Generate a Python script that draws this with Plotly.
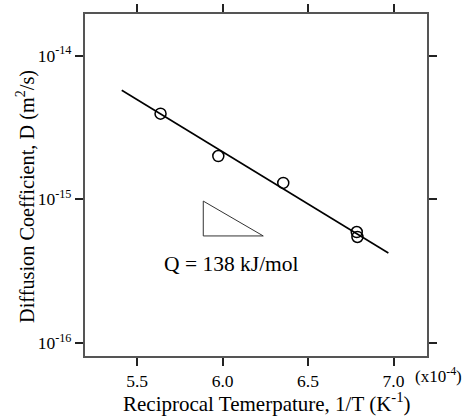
import plotly.graph_objects as go

# Measured data: reciprocal temperature (x1e-4 K^-1) and diffusion coefficient (m^2/s)
inv_T = [5.637, 5.975, 6.355, 6.785, 6.789]
D_vals = [3.94e-15, 2.0e-15, 1.30e-15, 5.92e-16, 5.47e-16]

# Arrhenius fit line end points
fit_x = [5.41, 6.97]
fit_D = [5.74e-15, 4.23e-16]

# Slope triangle vertices
tri_x = [5.887, 5.887, 6.238, 5.887]
tri_D = [9.72e-16, 5.56e-16, 5.56e-16, 9.72e-16]

y_tickvals = [1e-16, 1e-15, 1e-14]
y_ticktext = ["10<sup>-16</sup>", "10<sup>-15</sup>", "10<sup>-14</sup>"]
x_tickvals = [5.5, 6.0, 6.5, 7.0]
x_ticktext = ["5.5", "6.0", "6.5", "7.0"]

FONT = "Liberation Serif"

fig = go.Figure()
fig.add_trace(go.Scatter(x=fit_x, y=fit_D, mode="lines",
                         line=dict(color="black", width=1.6), showlegend=False))
fig.add_trace(go.Scatter(x=tri_x, y=tri_D, mode="lines",
                         line=dict(color="#333333", width=1), showlegend=False))
fig.add_trace(go.Scatter(x=inv_T, y=D_vals, mode="markers",
                         marker=dict(symbol="circle-open", size=11, color="black",
                                     line=dict(width=1.5, color="black")),
                         showlegend=False))

fig.update_layout(
    width=463, height=416,
    margin=dict(l=85, r=36, t=14, b=60, autoexpand=False),
    plot_bgcolor="white", paper_bgcolor="white",
    font=dict(family=FONT, size=17, color="black"),
    xaxis=dict(range=[5.195, 7.196], tickvals=x_tickvals, ticktext=x_ticktext,
               showgrid=False, zeroline=False, showline=True, linecolor="#555555",
               linewidth=2, mirror="ticks", ticks="outside", ticklen=8,
               tickcolor="#222222", tickwidth=1.5, automargin=False,
               tickfont=dict(family=FONT, size=17.5)),
    yaxis=dict(type="log", range=[-16.09, -13.711], tickvals=y_tickvals,
               ticktext=y_ticktext, showgrid=False, zeroline=False, showline=True,
               linecolor="#555555", linewidth=2, mirror="ticks", ticks="outside",
               ticklen=8, tickcolor="#222222", tickwidth=1.5, automargin=False,
               tickfont=dict(family=FONT, size=17.5)),
    annotations=[
        dict(text="Q = 138 kJ/mol", x=231, y=416 - 264, showarrow=False,
             font=dict(size=21.5)),
        dict(text="Diffusion Coefficient, D (m<sup>2</sup>/s)", textangle=-90,
             x=25, y=416 - 197, showarrow=False, font=dict(size=20.3)),
        dict(text="Reciprocal Temerpature, 1/T (K<sup>-1</sup>)",
             x=267, y=416 - 402, showarrow=False, font=dict(size=21)),
        dict(text="(x10<sup>-4</sup>)", x=438, y=416 - 375, showarrow=False,
             font=dict(size=17)),
    ],
)

# convert pixel-positioned annotations to paper coords
pw = 463 - 85 - 36
ph = 416 - 14 - 60
for a in fig.layout.annotations:
    px, py = a.x, a.y
    a.x = (px - 85) / pw
    a.y = (py - 60) / ph
    a.xref = "paper"
    a.yref = "paper"
    a.xanchor = "center"
    a.yanchor = "middle"

fig.write_html("out.html", config={"displayModeBar": False},
               post_script="document.body.style.margin='0';document.body.style.padding='0';")
